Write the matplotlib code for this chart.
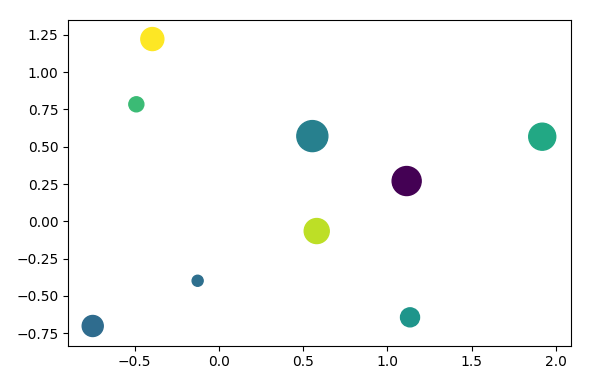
import matplotlib
matplotlib.use("Agg")
import matplotlib.pyplot as plt

# point positions
x = [-0.395, -0.490, 0.555, 1.920, 1.115, 0.581, -0.126, -0.749, 1.135]
y = [1.221, 0.784, 0.571, 0.567, 0.270, -0.065, -0.398, -0.701, -0.643]

# colour values (viridis) and marker areas
colours = [1.0, 0.68, 0.43, 0.60, 0.0, 0.90, 0.36, 0.35, 0.52]
sizes = [274, 117, 498, 378, 436, 324, 63, 229, 187]

fig = plt.figure(figsize=(6.11, 3.85), dpi=100)
fig.subplots_adjust(left=68.3 / 611, right=570.7 / 611,
                    top=1 - 19.5 / 385, bottom=1 - 345.7 / 385)
ax = fig.add_subplot(111)

ax.scatter(x, y, s=sizes, c=colours, cmap="viridis", vmin=0, vmax=1)

ax.set_xlim(-0.894, 2.089)
ax.set_ylim(-0.833, 1.352)
ax.set_xticks([-0.5, 0.0, 0.5, 1.0, 1.5, 2.0])
ax.set_yticks([-0.75, -0.5, -0.25, 0.0, 0.25, 0.5, 0.75, 1.0, 1.25])

fig.savefig("out.png", dpi=100)
